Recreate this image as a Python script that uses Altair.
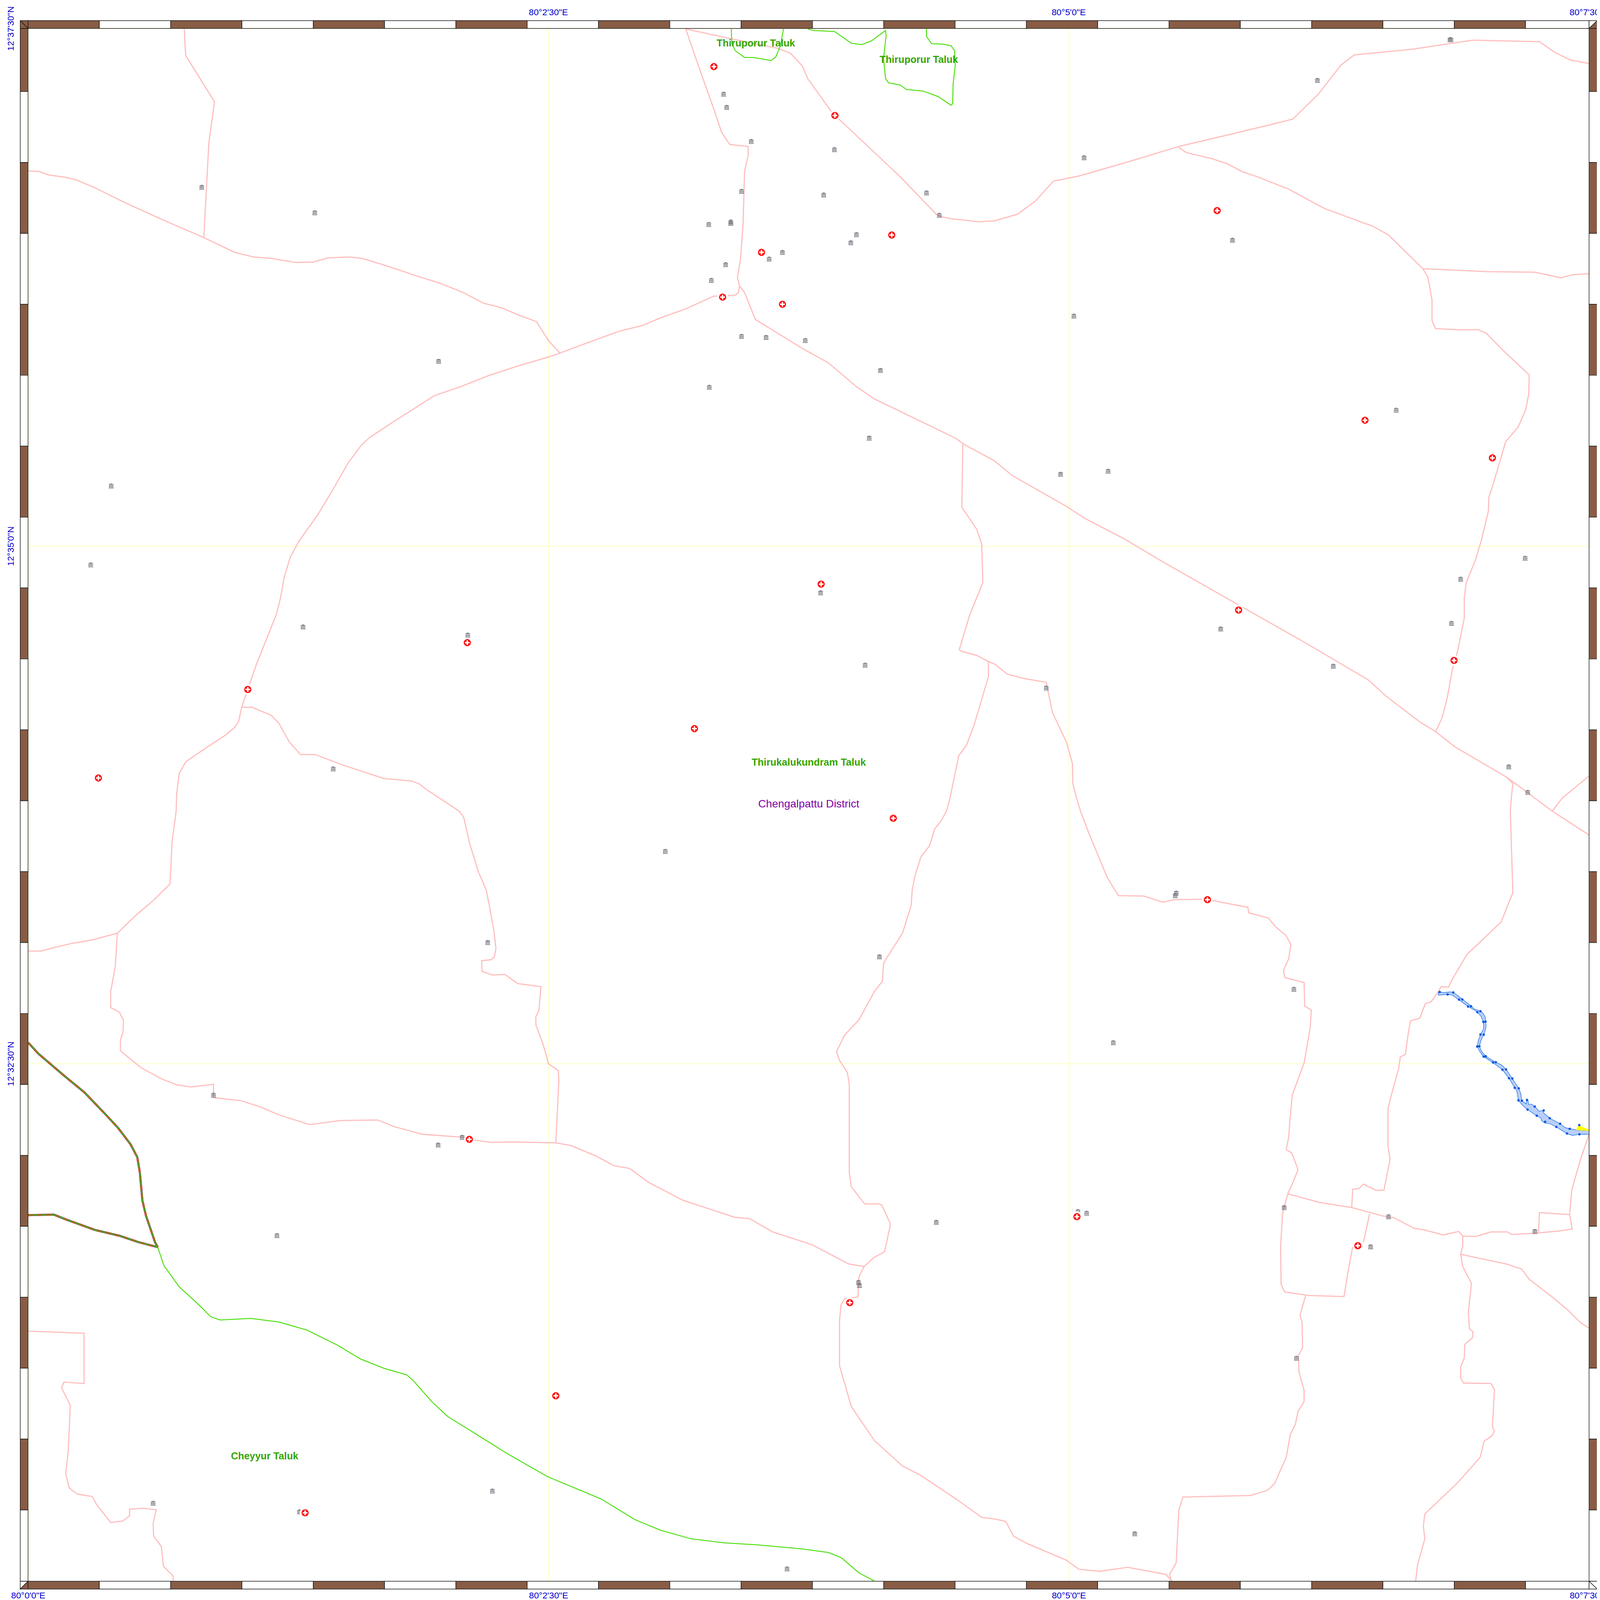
import altair as alt
import pandas as pd

# ---- digitised map geometry: (sheet quadrant, [x, y, x, y, ...]) in sheet units ----
road_west = [("Q1", [55,336,75,337,95,344,125,348,150,354,185,369,235,394,265,408,320,433,398,467,458,496,495,505,530,508,578,516,612,515,640,507,680,505,708,508,760,524,810,541,860,557,905,575,945,596,980,605,1015,620,1048,632,1072,670,1094,694])]
road_nw = [("Q1", [360,57,361,85,363,110,419,200,408,280,398,467])]
road_main_a = [("Q1", [1437,580,1412,582,1395,582,1340,607,1290,625,1255,640,1210,651,1150,673,1094,694,1071,702,1010,720,955,738,900,760,848,778,800,809,770,828,722,860,706,875,680,910,650,963,620,1013,585,1062,567,1095,555,1135,548,1175,540,1207,525,1245,500,1308,484,1355,472,1390,466,1418,458,1430,440,1445,405,1468,363,1497,350,1520,345,1560]),
               ("Q3", [344,0,336,60,332,143,300,175,265,205,229,240,180,253,140,260,110,267,80,275,55,275])]
road_south_a = [("Q3", [229,240,225,305,216,355,216,386,233,395,241,411,240,435,235,450,235,471,275,504,315,526,345,538,373,542,417,537,417,563,470,569,505,580,545,597,605,616,665,608,738,607,770,620,825,635,905,641,930,647,960,651,1000,650,1086,652,1115,657,1165,678,1200,697,1230,702,1268,730,1335,765,1435,798,1465,801,1510,827,1568,846]),
                ("Q4", [10,846,30,853,100,890,130,895])]
road_mid_b = [("Q4", [85,970,92,958,118,955,120,915,130,895,148,878,170,866,181,815,181,810,165,775,160,772,131,772,105,738,101,710,101,535,97,513,82,490,76,473,92,440,120,410,150,355,166,334,168,300,172,292,205,240,222,185,224,155,230,125,241,90,258,68,268,35,280,20,291,0]),
              ("Q2", [298,1568,315,1485,330,1465,345,1425,373,1330,373,1300])]
road_mid_c = [("Q2", [323,872,321,997,350,1040,360,1070,362,1145,336,1210,316,1277,320,1280,350,1288,373,1300,385,1305,410,1325,440,1333,486,1341,498,1400,526,1460,537,1500,538,1540,545,1568]),
              ("Q4", [553,0,570,45,605,130,627,166,677,167,714,179,737,174,800,173,812,176,880,189,882,200,920,210,935,228,955,245,964,262,960,290,950,312,952,327,990,337,991,383,1004,391,1002,425,990,495,967,557,962,610,960,640,955,665,966,672,978,705,968,730,958,752,948,790,944,855,945,930,952,945,1000,952,1068,954,1075,910,1085,856])]
road_stub = [("Q4", [1106,847,1118,792])]
road_cross = [("Q4", [958,752,1020,769,1083,779,1145,796,1165,799,1205,820,1225,823,1262,833,1292,826,1300,835,1325,836,1355,827,1388,827,1395,832,1430,830,1448,829,1490,825,1514,821,1509,793,1450,789,1448,829])]
road_east_edge = [("Q4", [1509,793,1513,745,1530,685,1547,635])]
road_east = [("Q4", [1083,779,1085,743,1097,742,1106,733,1130,745,1146,745,1158,684,1154,660,1154,585,1160,560,1175,505,1178,483,1188,478,1193,440,1198,412,1216,407,1227,378,1238,375,1252,355,1258,345,1272,346,1280,330,1308,282,1375,218,1398,160,1393,0]),
             ("Q2", [1395,1568,1398,1540,1385,1527])]
road_diag = [("Q1", [1445,562,1455,575,1476,628,1515,652,1568,685]),
             ("Q2", [60,713,115,760,150,784,310,862,323,872,385,906,420,935,525,995,560,1018,640,1060,715,1105,862,1189,990,1262,1115,1336,1150,1368,1215,1418,1247,1438,1285,1468,1385,1527,1430,1560,1440,1568]),
             ("Q4", [1475,0,1547,47])]
road_diag_b = [("Q2", [1547,1525,1495,1568]), ("Q4", [1475,0])]
road_north = [("Q1", [1340,57,1365,130,1395,215,1410,260,1426,284,1462,288,1462,305,1455,337,1452,440,1447,510,1441,546,1445,562,1443,575,1437,580])]
road_ne = [("Q1", [1340,57,1400,70,1470,85,1520,95,1545,105,1568,130]),
           ("Q2", [20,155,68,222,200,347,270,420,277,425,300,430,355,436,385,434,430,421,465,395,500,356,550,346,640,320,738,290,745,288,850,263,925,245,968,234,1018,185,1062,128,1088,108,1200,97,1320,79,1450,82,1480,103,1510,118,1547,125])]
road_ne_b = [("Q2", [745,290,760,300,810,312,840,322,870,338,900,348,960,372,1030,410,1125,445,1155,462,1222,528,1232,545,1240,590,1240,630,1247,646,1290,648,1330,648,1346,655,1380,690,1430,737,1429,775,1423,805,1408,840,1384,868,1360,950,1351,978,1350,1005,1337,1060,1325,1100,1307,1145,1303,1175,1303,1215,1290,1280,1280,1315,1270,1370,1260,1410,1247,1438])]
road_ne_c = [("Q2", [1222,528,1350,534,1440,535,1492,546,1515,540,1547,538])]
road_loop = [("Q4", [85,970,82,1000,82,1090,105,1170,150,1237,205,1287,240,1305,310,1352,360,1388,385,1391,407,1396,422,1425,450,1440,525,1472,550,1490,590,1494,645,1486,720,1500,731,1513])]
road_loop_b = [("Q4", [731,1513,727,1500,740,1477,745,1375,753,1348,885,1345,918,1335,932,1322,955,1270,963,1225,973,1205,978,1180,990,1160,990,1138,980,1103,979,1070,987,1055,986,1005,982,990,993,952])]
road_se = [("Q4", [1300,835,1300,855,1296,871,1300,895,1317,928,1311,985,1313,1017,1320,1023,1319,1035,1304,1048,1303,1075,1296,1092,1296,1115,1302,1124,1355,1125,1362,1137,1358,1210,1362,1218,1357,1228,1342,1238,1334,1270,1290,1320,1226,1381,1223,1405,1226,1430,1212,1480,1208,1513])]
road_se_b = [("Q4", [1296,871,1385,890,1415,900,1430,920,1475,955,1505,980,1530,1005,1547,1016])]
road_sw = [("Q3", [55,1022,164,1026,164,1125,125,1122,120,1133,137,1168,133,1260,128,1302,135,1330,150,1342,180,1347,188,1362,216,1398,240,1395,253,1385,253,1372,280,1370,305,1373,299,1400,300,1425,315,1445,319,1484,338,1503,338,1513])]
road_inner = [("Q1", [472,1390,492,1390,530,1406,545,1422,565,1458,587,1483,616,1483,665,1502,750,1530,805,1535,820,1541,835,1553,858,1568]),
              ("Q3", [897,0,906,12,918,65,935,120,950,155,956,185,965,235,969,270,966,286,960,292,941,294,942,315,962,322,986,321,1012,339,1057,345,1053,392,1047,404,1047,420,1060,455,1069,485,1071,496,1091,510,1092,530,1086,652])]
roads = [road_west, road_nw, road_main_a, road_south_a, road_mid_b, road_mid_c, road_stub, road_cross,
         road_east_edge, road_east, road_diag, road_diag_b, road_north, road_ne, road_ne_b, road_ne_c,
         road_loop, road_loop_b, road_se, road_se_b, road_sw, road_inner]

taluk_south = [("Q3", [308,857,320,893,350,935,385,967,412,994,430,1000,490,997,545,1004,600,1020,660,1050,705,1077,750,1095,795,1108,810,1122,843,1160,875,1190,920,1218,990,1262,1070,1308,1175,1352,1240,1392,1290,1413,1350,1430,1415,1438,1480,1442,1568,1450]),
               ("Q4", [10,1450,60,1457,85,1467,120,1497,150,1513])]
taluk_north_a = [("Q1", [1429,57,1430,85,1437,100,1455,113,1472,113,1507,119,1516,112,1525,90,1531,57])]
taluk_north_b = [("Q2", [20,57,30,60,72,62,105,85,125,88,145,80,172,60,173,70,168,115,172,155,178,163,200,167,213,176,245,179,275,190,300,207,303,204,304,165,308,130,307,100,300,90,285,87,262,86,252,72,252,57])]
taluks = [taluk_south, taluk_north_a, taluk_north_b]

highway_a = [("Q3", [55,455,75,477,125,520,165,553,205,595,230,622,255,655,268,680,273,710,278,765,285,795,303,848,308,857])]
highway_b = [("Q3", [55,794,105,793,130,803,185,823,235,835,270,847,308,857])]
highways = [highway_a, highway_b]

river_outline = [("Z", [340,262,350,258,380,262,430,256,452,262,480,282,520,316,585,370,610,395,655,412,675,430,692,460,695,497,698,540,692,570,680,603,660,650,648,698,665,740,697,780,770,828,815,850,848,885,895,960,943,1040,958,1080,967,1140,1000,1167,1000,1135,1005,1125,1012,1135,1017,1170,1040,1168,1063,1187,1095,1225,1125,1220,1130,1240,1175,1282,1253,1327,1290,1358,1325,1368,1375,1377,1485,1385,1485,1415,1440,1412,1398,1413,1345,1422,1305,1407,1225,1353,1180,1328,1140,1322,1115,1303,1108,1280,1078,1262,1009,1212,975,1180,941,1137,928,1060,913,1035,870,958,820,888,770,847,750,830,680,783,650,740,632,700,640,650,657,603,680,555,678,498,660,455,633,420,595,395,563,375,495,320,445,282,410,277,340,283,340,262])]
yellow_patch = [("Z", [1375,1377,1390,1340,1440,1362,1485,1385,1375,1377])]
river_dots = [("Z", [350,257,410,277,452,261,495,319,520,317,563,375,585,373,633,421,656,413,678,500,694,498,656,602,681,604,632,700,648,698,680,782,696,779,750,830,771,827,821,888,848,886,870,957,895,960,913,1035,943,1040,941,1137,967,1140,1005,1134,1009,1212,1063,1187,1078,1262,1130,1219,1141,1311,1175,1282,1225,1353,1253,1327,1305,1406,1325,1368,1398,1413,1397,1338,1482,1364])]

bank_sites = [("Q1", [394,368,615,418,857,710,217,955,177,1110,592,1232,914,1248,651,1511,1414,185,1420,211,1468,278,1449,376,1385,441,1428,436,1428,439,1529,496,1503,509,1418,520,1390,551,1449,661,1497,663,1386,761]),
              ("Q2", [1275,78,1277,78,1016,158,560,310,72,294,51,383,252,379,277,423,115,461,104,477,850,472,540,621,15,669,162,728,140,861,514,932,607,926,1170,806,1422,1097,1296,1138,1278,1225,45,1165,827,1236,132,1307,1047,1309,486,1352,1390,1507,1427,1557]),
              ("Q3", [1300,79,953,258,417,558,856,656,903,641,541,834,962,1336,299,1360,585,1377,1538,1489]),
              ("Q4", [160,286,970,350,617,455,740,161,738,166,119,926,121,932,271,808,565,790,951,779,1155,797,1120,856,1441,826,975,1075,659,1420,548,787])]
hospital_sites = [("Q1", [1395,131,1488,496,1412,584,1529,598,913,1263,484,1355,1357,1432,192,1529]),
                  ("Q2", [73,227,184,462,820,414,1109,826,1358,900,46,1148,862,1199,1283,1298]),
                  ("Q3", [917,645,596,1379,1086,1149]),
                  ("Q4", [187,14,801,174,546,797,1095,854,102,966])]

place_names = ["Thiruporur Taluk", "Thiruporur Taluk", "Thirukalukundram Taluk", "Cheyyur Taluk"]
place_xy = [("Q1", [1477,86]), ("Q2", [237,118]), ("PX", [2177,2065]), ("Q3", [517,1268])]
district_name = ["Chengalpattu District"]
district_xy = [("PX", [2177,2177])]

lon_ticks = [80.0, 80 + 2.5/60, 80 + 5/60, 80.125]
lat_ticks = [12.5 + 2.5/60, 12.5 + 5/60, 12.625]
top_labels = ["80°2'30\"E", "80°5'0\"E", "80°7'30\"E"]

SHEET_S = 1568 / 2160
X0, Y0, PW, PH = 75, 77, 4203, 4204
DRAW_H = 4181


def to_px(q, x, y):
    if q == "PX":
        return x, y
    if q == "Z":
        return 3750 + x / 2.785, 2600 + y / 3
    ox = 2147 if q in ("Q2", "Q4") else 0
    oy = 2196 if q in ("Q3", "Q4") else 0
    return ox + x / SHEET_S, oy + y / SHEET_S


def lon(px):
    return 80 + (px - X0) / PW * 0.125


def lat(py):
    return 12.625 - (py - Y0) / PH * 0.125


def path_rows(path, pid=0):
    rows = []
    for q, flat in path:
        for i in range(0, len(flat), 2):
            px, py = to_px(q, flat[i], flat[i + 1])
            rows.append({"id": pid, "seq": len(rows), "lon": lon(px), "lat": lat(py)})
    return rows


def paths_df(paths):
    rows = []
    for pid, p in enumerate(paths):
        rows += path_rows(p, pid)
    return pd.DataFrame(rows)


road_df = paths_df(roads)
taluk_df = paths_df(taluks)
highway_df = paths_df(highways)
river_df = paths_df([river_outline])
yellow_df = paths_df([yellow_patch])
dots_df = paths_df([river_dots])
bank_df = paths_df([bank_sites])
hospital_df = paths_df([hospital_sites])
place_df = paths_df([place_xy])
place_df["name"] = place_names
district_df = paths_df([district_xy])
district_df["name"] = district_name
top_df = pd.DataFrame({"lon": lon_ticks[1:], "lat": [lat(41)] * 3, "name": top_labels})

# neatline chequer
T = 192
tiles = []
xedges = [54] + [X0 + T * k for k in range(1, 22)] + [4300]
yedges = [56] + [56 + T * k for k in range(1, 22)] + [4302]
for k in range(len(xedges) - 1):
    c = "#885c45" if k % 2 == 0 else "#ffffff"
    a, b = xedges[k], xedges[k + 1]
    if k == 0:
        a = 75
    if k == len(xedges) - 2:
        b = 4278
    tiles.append((a, b, 56, 77, c))
    tiles.append((a, b, 4281, 4302, c))
for k in range(len(yedges) - 1):
    c = "#885c45" if k % 2 == 0 else "#ffffff"
    a, b = yedges[k], yedges[k + 1]
    if k == 0:
        a = 77
    if k == len(yedges) - 2:
        b = 4281
    tiles.append((54, 75, a, b, c))
    tiles.append((4278, 4300, a, b, c))
tile_df = pd.DataFrame([{"x1": lon(a), "x2": lon(b), "y1": lat(c), "y2": lat(d), "fill": e} for a, b, c, d, e in tiles])

corner_paths = [
    ("#885c45", [(54, 56), (75, 56), (75, 77)]),
    ("#885c45", [(54, 56), (54, 77), (75, 77)]),
    ("#ffffff", [(4278, 56), (4300, 56), (4278, 77)]),
    ("#885c45", [(4300, 56), (4300, 77), (4278, 77)]),
    ("#ffffff", [(54, 4281), (75, 4281), (54, 4302)]),
    ("#885c45", [(75, 4281), (75, 4302), (54, 4302)]),
    ("#ffffff", [(4278, 4281), (4300, 4302), (4278, 4302)]),
    ("#ffffff", [(4278, 4281), (4300, 4281), (4300, 4302)]),
]
corner_layers = []
for c, pts in corner_paths:
    d = pd.DataFrame([{"seq": i, "lon": lon(a), "lat": lat(b)} for i, (a, b) in enumerate(pts + pts[:1])])
    corner_layers.append(d.assign(fill=c))

X = alt.X("lon:Q", scale=alt.Scale(domain=[80, 80.125], zero=False, nice=False),
          axis=alt.Axis(orient="bottom", title=None, values=lon_ticks, domain=False, ticks=False,
                        grid=True, gridColor="#ffff80", gridWidth=1, labelPadding=27,
                        labelFont="Liberation Sans", labelFontSize=24, labelColor="#0000cd",
                        labelOverlap=False, labelFlush=False, labelBound=False,
                        labelExpr="'80°' + floor((datum.value-80)*60+1e-6) + \"'\" + round(((datum.value-80)*60-floor((datum.value-80)*60+1e-6))*60) + '\"E'"))
Y = alt.Y("lat:Q", scale=alt.Scale(domain=[12.5, 12.625], zero=False, nice=False),
          axis=alt.Axis(orient="left", title=None, values=lat_ticks, domain=False, ticks=False,
                        grid=True, gridColor="#ffff80", gridWidth=1, labelPadding=34, labelAngle=270,
                        labelFont="Liberation Sans", labelFontSize=24, labelColor="#0000cd",
                        labelOverlap=False, labelFlush=False, labelBound=False,
                        labelExpr="'12°' + floor((datum.value-12)*60+1e-6) + \"'\" + round(((datum.value-12)*60-floor((datum.value-12)*60+1e-6))*60) + '\"N'"))
XN = alt.X("lon:Q", axis=None)
YN = alt.Y("lat:Q", axis=None)
ORD = alt.Order("seq:Q")


def lines(df, colour, width, **kw):
    return alt.Chart(df).mark_line(stroke=colour, strokeWidth=width, strokeJoin="round", **kw).encode(
        x=XN, y=YN, detail="id:N", order=ORD)


road_layer = alt.Chart(road_df).mark_line(stroke="#ffbfbf", strokeWidth=3.2).encode(x=X, y=Y, detail="id:N", order=ORD)
taluk_layer = lines(taluk_df, "#44dd00", 2.4)

river_layer = alt.Chart(river_df).mark_line(stroke="#2a78e4", strokeWidth=1.5, fill="#b9cffa").encode(x=XN, y=YN, order=ORD)
yellow_layer = alt.Chart(yellow_df).mark_line(stroke="#ffff00", strokeWidth=1, fill="#ffff00").encode(x=XN, y=YN, order=ORD)
dot_layer = alt.Chart(dots_df).mark_circle(color="#0056e0", size=40, opacity=1).encode(x=XN, y=YN)

hw_grey = lines(highway_df, "#555555", 5.5)
hw_red = lines(highway_df, "#ee1111", 5, strokeDash=[14, 10])
hw_green = lines(highway_df, "#44cc11", 2.2)

tile_layer = alt.Chart(tile_df).mark_rect(stroke="#1a1a1a", strokeWidth=1.5).encode(
    x=alt.X("x1:Q", axis=None), x2="x2:Q", y=alt.Y("y1:Q", axis=None), y2="y2:Q", fill=alt.Fill("fill:N", scale=None)
)
corners = [
    alt.Chart(d).mark_line(stroke="#1a1a1a", strokeWidth=1.5, fill=d["fill"].iloc[0]).encode(x=XN, y=YN, order=ORD)
    for d in corner_layers
]

BANK = ("M-0.95,-0.6L0,-1L0.95,-0.6V-0.4H-0.95Z M-0.85,-0.3H-0.5V0.6H-0.85Z M-0.35,-0.3H-0.05V0.6H-0.35Z "
        "M0.1,-0.3H0.4V0.6H0.1Z M0.55,-0.3H0.85V0.6H0.55Z M-1,0.72H1V1H-1Z")
bank_layer = alt.Chart(bank_df).mark_point(shape=BANK, filled=True, color="#70707a", size=180, opacity=0.9).encode(x=XN, y=YN)

CROSS = "M-0.3,-1H0.3V-0.3H1V0.3H0.3V1H-0.3V0.3H-1V-0.3H-0.3Z"
hosp_halo = alt.Chart(hospital_df).mark_circle(color="#ffffff", size=800, opacity=1).encode(x=XN, y=YN)
hosp_red = alt.Chart(hospital_df).mark_circle(color="#ff0000", size=370, opacity=1).encode(x=XN, y=YN)
hosp_cross = alt.Chart(hospital_df).mark_point(shape=CROSS, filled=True, color="#ffffff", size=170, opacity=1).encode(x=XN, y=YN)

place_layer = alt.Chart(place_df).mark_text(font="Liberation Sans", fontWeight="bold", fontSize=26.67, color="#33a600",
                                            align="center", baseline="middle").encode(x=XN, y=YN, text="name:N")
district_layer = alt.Chart(district_df).mark_text(font="Liberation Sans", fontSize=29.33, color="#7f00a6",
                                                  align="center", baseline="middle").encode(x=XN, y=YN, text="name:N")
top_layer = alt.Chart(top_df).mark_text(font="Liberation Sans", fontSize=24, color="#0000cd",
                                        align="center", baseline="alphabetic").encode(x=XN, y=YN, text="name:N")

chart = alt.layer(
    road_layer, taluk_layer, river_layer, yellow_layer, dot_layer, hw_grey, hw_red, hw_green,
    tile_layer, *corners, bank_layer, hosp_halo, hosp_red, hosp_cross, place_layer, district_layer, top_layer
).resolve_axis(x="independent", y="independent").properties(
    width=PW, height=DRAW_H,
    autosize=alt.AutoSizeParams(type="none"),
    padding={"left": 67, "top": -38, "right": 21, "bottom": -43},
    background="#ffffff",
).configure_view(stroke=None)

chart.save("out.html", embed_options={"renderer": "svg", "actions": False})
